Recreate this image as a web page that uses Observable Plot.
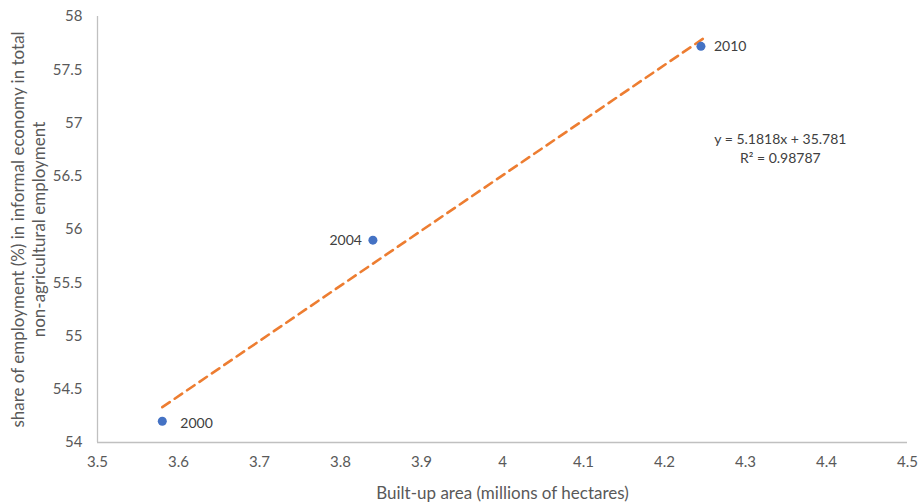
<!DOCTYPE html>
<html>
<head>
<meta charset="utf-8">
<script src="https://cdn.jsdelivr.net/npm/d3@7"></script>
<script src="https://cdn.jsdelivr.net/npm/@observablehq/plot@0.6"></script>
<style>
  html, body { margin: 0; padding: 0; background: #fff; }
  #chart svg { display: block; }
</style>
</head>
<body>
<div id="chart"></div>
<script>
const years = ["2000", "2004", "2010"];
const builtUp = [3.58, 3.84, 4.245];
const informalShare = [54.2, 55.9, 57.72];
const slope = 5.1818;
const intercept = 35.781;
const trendX = [3.58, 4.25];
const xTicks = [3.5, 3.6, 3.7, 3.8, 3.9, 4, 4.1, 4.2, 4.3, 4.4, 4.5];
const yTicks = [54, 54.5, 55, 55.5, 56, 56.5, 57, 57.5, 58];
const equationText = "y = 5.1818x + 35.781\nR² = 0.98787";
const xLabel = "Built-up area (millions of hectares)";
const yLabel = "share of employment (%) in informal economy in total\nnon-agricultural employment";

const points = years.map((y, i) => ({year: y, x: builtUp[i], y: informalShare[i]}));
const trend = trendX.map(x => ({x, y: slope * x + intercept}));
const leftLabelled = points.filter(d => d.year === "2004");
const firstLabelled = points.filter(d => d.year === "2000");
const lastLabelled = points.filter(d => d.year === "2010");

const font = "Lato, 'Open Sans', sans-serif";
const labelStyle = {x: "x", y: "y", text: "year", fill: "#404040", fontSize: 14};
const chart = Plot.plot({
  width: 922,
  height: 503,
  marginLeft: 97,
  marginRight: 15,
  marginTop: 16,
  marginBottom: 61,
  style: {fontFamily: font, fontSize: "15px", color: "#595959", background: "#fff"},
  x: {domain: [3.5, 4.5], ticks: xTicks, tickSize: 0, tickPadding: 14, label: null, tickFormat: d => String(d)},
  y: {domain: [54, 58], ticks: yTicks, tickSize: 0, tickPadding: 15, label: null, tickFormat: d => String(d)},
  marks: [
    Plot.ruleX([3.5], {stroke: "#c0c0c0", strokeWidth: 1.3}),
    Plot.ruleY([54], {stroke: "#c0c0c0", strokeWidth: 1.3}),
    Plot.line(trend, {x: "x", y: "y", stroke: "#ed7d31", strokeWidth: 2.6, strokeDasharray: "9,6"}),
    Plot.dot(points, {x: "x", y: "y", r: 4.5, fill: "#4472c4", stroke: "none"}),
    Plot.text(firstLabelled, {...labelStyle, textAnchor: "start", dx: 18, dy: 2}),
    Plot.text(leftLabelled, {...labelStyle, textAnchor: "end", dx: -11}),
    Plot.text(lastLabelled, {...labelStyle, textAnchor: "start", dx: 13}),
    Plot.text([equationText], {x: [4.343], y: [56.77], text: d => d, fill: "#404040", fontSize: 14, lineHeight: 1.35}),
    Plot.text([xLabel], {frameAnchor: "bottom", dy: 56, text: d => d, fill: "#595959", fontSize: 17}),
    Plot.text([yLabel], {frameAnchor: "left", textAnchor: "middle", dx: -70, rotate: -90, text: d => d, fill: "#595959", fontSize: 17, lineHeight: 1.25})
  ]
});
document.getElementById("chart").appendChild(chart);
</script>
</body>
</html>
